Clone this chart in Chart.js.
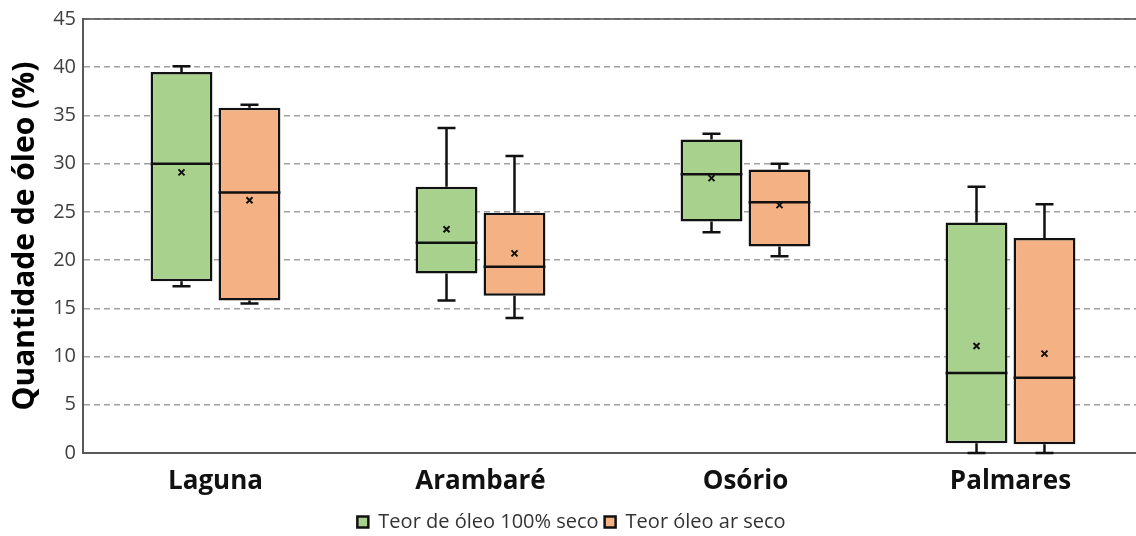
<!DOCTYPE html>
<html><head><meta charset="utf-8">
<script src="https://cdn.jsdelivr.net/npm/chart.js@4/dist/chart.umd.min.js"></script>
<style>html,body{margin:0;padding:0;background:#fff;overflow:hidden}#wrap{width:1143px;height:536px;position:relative}</style>
</head><body><div id="wrap"><canvas id="c"></canvas></div>
<script>
const categories = ['Laguna', 'Arambaré', 'Osório', 'Palmares'];
const seriesNames = ['Teor de óleo 100% seco', 'Teor óleo ar seco'];
const dryMin    = [17.3, 15.8, 22.9, 0.0];
const dryQ1     = [17.8, 18.6, 24.0, 1.0];
const dryMedian = [30.0, 21.8, 28.9, 8.3];
const dryQ3     = [39.5, 27.6, 32.5, 23.9];
const dryMax    = [40.1, 33.7, 33.1, 27.6];
const dryMean   = [29.1, 23.2, 28.5, 11.1];
const airMin    = [15.5, 14.0, 20.4, 0.0];
const airQ1     = [15.8, 16.3, 21.4, 0.9];
const airMedian = [27.0, 19.3, 26.0, 7.8];
const airQ3     = [35.8, 24.9, 29.4, 22.3];
const airMax    = [36.1, 30.8, 30.0, 25.8];
const airMean   = [26.2, 20.7, 25.7, 10.3];
const yMin = 0, yMax = 45, yStep = 5;

const FONT = "'Open Sans', 'DejaVu Sans', sans-serif";

const boxPlugin = {
  id: 'boxExtras',
  afterDatasetsDraw(chart) {
    const ctx = chart.ctx;
    const ys = chart.scales.y;
    chart.data.datasets.forEach((ds, d) => {
      const meta = chart.getDatasetMeta(d);
      const st = ds.stats;
      meta.data.forEach((el, i) => {
        const x = el.x, w = el.width;
        const left = x - w / 2, right = x + w / 2;
        const yq1 = ys.getPixelForValue(ds.data[i][0]);
        const yq3 = ys.getPixelForValue(ds.data[i][1]);
        const ymin = ys.getPixelForValue(st.min[i]);
        const ymax = ys.getPixelForValue(st.max[i]);
        const ymed = ys.getPixelForValue(st.median[i]);
        const ymean = ys.getPixelForValue(st.mean[i]);
        ctx.save();
        ctx.strokeStyle = '#111';
        ctx.lineWidth = 2.5;
        ctx.lineCap = 'butt';
        const cap = 9;
        ctx.beginPath();
        ctx.moveTo(x, yq3); ctx.lineTo(x, ymax);
        ctx.moveTo(x - cap, ymax); ctx.lineTo(x + cap, ymax);
        ctx.moveTo(x, yq1); ctx.lineTo(x, ymin);
        ctx.moveTo(x - cap, ymin); ctx.lineTo(x + cap, ymin);
        ctx.moveTo(left, ymed); ctx.lineTo(right, ymed);
        ctx.stroke();
        const m = 3;
        ctx.lineWidth = 2;
        ctx.beginPath();
        ctx.moveTo(x - m, ymean - m); ctx.lineTo(x + m, ymean + m);
        ctx.moveTo(x - m, ymean + m); ctx.lineTo(x + m, ymean - m);
        ctx.stroke();
        ctx.restore();
      });
    });
    const ca = chart.chartArea;
    ctx.save();
    ctx.strokeStyle = '#4d4d4d';
    ctx.lineWidth = 1.5;
    ctx.beginPath();
    ctx.moveTo(ca.left, ys.getPixelForValue(yMax));
    ctx.lineTo(ca.right, ys.getPixelForValue(yMax));
    ctx.stroke();
    ctx.restore();
  }
};

new Chart(document.getElementById('c'), {
  type: 'bar',
  data: {
    labels: categories,
    datasets: [
      {
        label: seriesNames[0],
        data: dryQ1.map((v, i) => [v, dryQ3[i]]),
        stats: { min: dryMin, median: dryMedian, max: dryMax, mean: dryMean },
        backgroundColor: '#a9d18e',
        borderColor: '#111',
        borderWidth: 2.5,
        borderSkipped: false,
        categoryPercentage: 0.513,
        barPercentage: 0.91
      },
      {
        label: seriesNames[1],
        data: airQ1.map((v, i) => [v, airQ3[i]]),
        stats: { min: airMin, median: airMedian, max: airMax, mean: airMean },
        backgroundColor: '#f4b183',
        borderColor: '#111',
        borderWidth: 2.5,
        borderSkipped: false,
        categoryPercentage: 0.513,
        barPercentage: 0.91
      }
    ]
  },
  options: {
    responsive: true,
    maintainAspectRatio: false,
    animation: false,
    layout: { padding: { top: 9, right: 0, bottom: -6, left: 0 } },
    plugins: {
      tooltip: { enabled: false },
      legend: {
        position: 'bottom',
        labels: {
          font: { family: FONT, size: 20 },
          color: '#333',
          boxWidth: 11,
          boxHeight: 11,
          padding: 6
        }
      }
    },
    scales: {
      x: {
        grid: { display: false, drawTicks: false },
        border: { display: true, color: '#595959', width: 2 },
        ticks: { font: { family: FONT, size: 26, weight: 'bold' }, color: '#111', padding: 13 },
        afterFit(s) { s.height = 53; }
      },
      y: {
        min: yMin, max: yMax,
        grid: { color: '#a0a0a0', lineWidth: 1.5, drawTicks: false },
        border: { display: true, color: '#595959', width: 2, dash: [6, 4] },
        ticks: { stepSize: yStep, font: { family: FONT, size: 20 }, color: '#404040', padding: 7 },
        title: { display: true, text: 'Quantidade de óleo (%)', font: { family: FONT, size: 30, weight: 'bold' }, color: '#000', padding: { top: 7, bottom: 0 } },
        afterFit(s) { s.width = 83; }
      }
    }
  },
  plugins: [boxPlugin]
});
</script>
</body></html>
